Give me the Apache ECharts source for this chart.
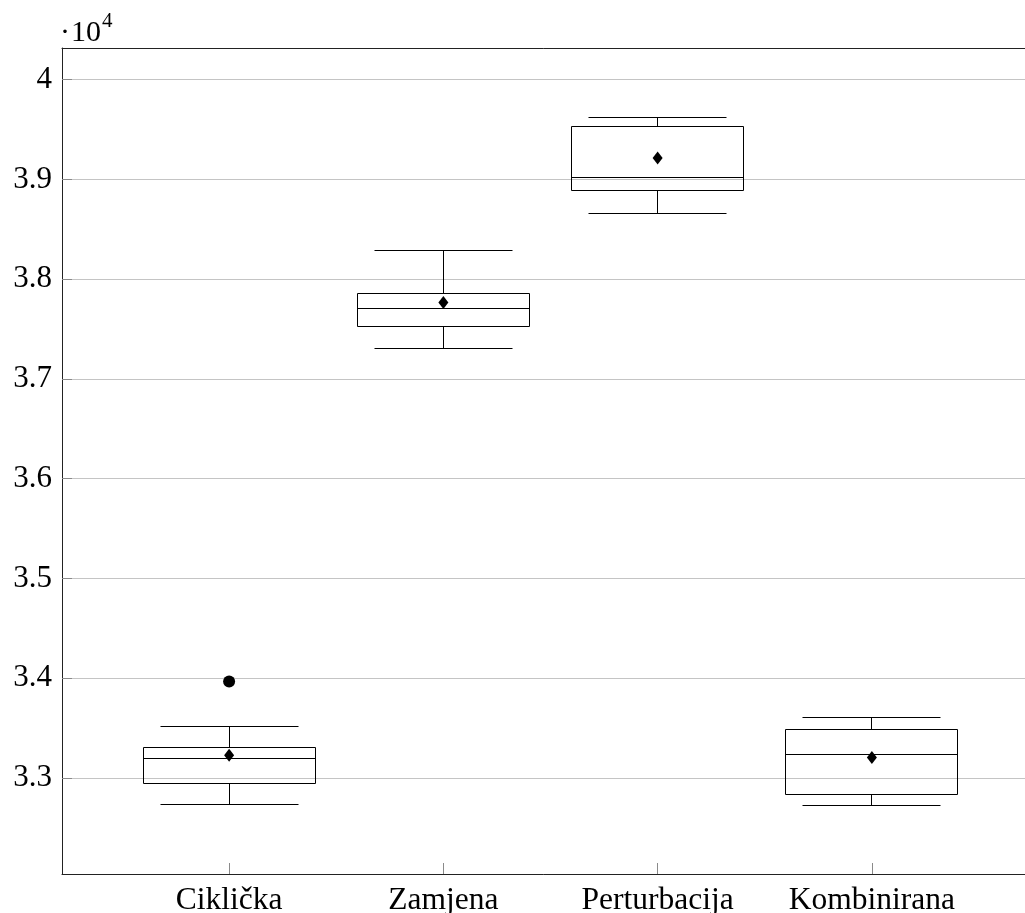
<!DOCTYPE html>
<html>
<head>
<meta charset="utf-8">
<title>Boxplot</title>
<script src="https://cdn.jsdelivr.net/npm/echarts@6/dist/echarts.min.js"></script>
<style>
  html, body { margin: 0; padding: 0; background: #fff; overflow: hidden; }
  #chart { width: 1025px; height: 913px; }
</style>
</head>
<body>
<div id="chart"></div>
<script>
// Categories and their position on the x axis
const categories = ['Ciklička', 'Zamjena', 'Perturbacija', 'Kombinirana'];
const positions = [1, 2, 3, 4];

// Five-number summaries per category
const lowerWhisker  = [32737, 37304, 38662, 32719];
const lowerQuartile = [32947, 37525, 38886, 32830];
const median        = [33193, 37702, 39020, 33231];
const upperQuartile = [33307, 37856, 39529, 33488];
const upperWhisker  = [33520, 38291, 39622, 33605];

// Means (diamonds) and outliers (dots)
const mean = [33227, 37765, 39214, 33204];
const outlierPosition = [1];
const outlierValue = [33967];

// Y axis ticks (values scaled by 10^4 in the labels)
const yTickValues = [33000, 34000, 35000, 36000, 37000, 38000, 39000, 40000];
const yTickLabels = ['3.3', '3.4', '3.5', '3.6', '3.7', '3.8', '3.9', '4'];

const serif = 'Liberation Serif';
const boxWidth = 0.8;        // in x-axis units
const whiskerRatio = 0.8;    // whisker cap width relative to box width

const boxData = positions.map((p, i) => [
  p, lowerWhisker[i], lowerQuartile[i], median[i], upperQuartile[i], upperWhisker[i]
]);
const meanData = positions.map((p, i) => [p, mean[i]]);
const outlierData = outlierPosition.map((p, i) => [p, outlierValue[i]]);

const crisp = v => Math.round(v - 0.5) + 0.5;

function renderBox(params, api) {
  const x = api.value(0);
  const yLw = api.coord([x, api.value(1)])[1];
  const yQ1 = api.coord([x, api.value(2)])[1];
  const yMed = api.coord([x, api.value(3)])[1];
  const yQ3 = api.coord([x, api.value(4)])[1];
  const yUw = api.coord([x, api.value(5)])[1];
  const cx = crisp(api.coord([x, 0])[0]);
  const half = api.size([boxWidth, 0])[0] / 2;
  const capHalf = half * whiskerRatio;
  const stroke = { stroke: '#000', lineWidth: 1, fill: null };
  const line = (x1, y1, x2, y2) => ({
    type: 'line',
    shape: { x1: x1, y1: y1, x2: x2, y2: y2 },
    style: stroke
  });
  const L = crisp(cx - half), R = crisp(cx + half);
  const cl = crisp(cx - capHalf), cr = crisp(cx + capHalf);
  const q1 = crisp(yQ1), q3 = crisp(yQ3), md = crisp(yMed), lw = crisp(yLw), uw = crisp(yUw);
  return {
    type: 'group',
    children: [
      { type: 'rect', shape: { x: L, y: q3, width: R - L, height: q1 - q3 }, style: stroke },
      line(L, md, R, md),
      line(cx, q3, cx, uw),
      line(cx, q1, cx, lw),
      line(cl, uw, cr, uw),
      line(cl, lw, cr, lw)
    ]
  };
}

const chart = echarts.init(document.getElementById('chart'), null, { renderer: 'canvas' });

chart.setOption({
  backgroundColor: '#fff',
  animation: false,
  grid: {
    left: 62, top: 48, width: 977, height: 826,
    outerBoundsMode: 'none',
    containLabel: false,
    show: false
  },
  xAxis: [
    {
      type: 'value',
      min: 0.22, max: 4.78,
      axisLine: { show: true, onZero: false, lineStyle: { color: '#222', width: 1 } },
      axisTick: {
        show: true, inside: true, length: 11, customValues: positions,
        lineStyle: { color: '#8a8a8a', width: 1 }
      },
      axisLabel: {
        customValues: positions,
        formatter: v => categories[positions.indexOf(v)] || '',
        fontFamily: serif, fontSize: 31.5, color: '#000', margin: 11
      },
      splitLine: { show: false }
    },
    {
      // top frame line
      type: 'value',
      position: 'top',
      min: 0.22, max: 4.78,
      axisLine: { show: true, onZero: false, lineStyle: { color: '#222', width: 1 } },
      axisTick: { show: false },
      axisLabel: { show: false },
      splitLine: { show: false }
    }
  ],
  yAxis: {
    type: 'value',
    min: 32037, max: 40317,
    axisLine: { show: true, onZero: false, lineStyle: { color: '#222', width: 1 } },
    axisTick: {
      show: true, inside: true, length: 10, customValues: yTickValues,
      lineStyle: { color: '#8a8a8a', width: 1 }
    },
    axisLabel: {
      customValues: yTickValues,
      formatter: v => yTickLabels[yTickValues.indexOf(v)] || '',
      fontFamily: serif, fontSize: 31, color: '#000', margin: 10
    },
    splitLine: { show: true, lineStyle: { color: '#c4c4c4', width: 1 } }
  },
  graphic: [
    {
      type: 'text', left: 60, top: 18,
      style: { text: '·', font: '30px "Liberation Serif"', fill: '#000' }
    },
    {
      type: 'text', left: 71, top: 18,
      style: { text: '10', font: '30px "Liberation Serif"', fill: '#000' }
    },
    {
      type: 'text', left: 102, top: 11,
      style: { text: '4', font: '21px "Liberation Serif"', fill: '#000' }
    }
  ],
  series: [
    {
      type: 'custom',
      name: 'box',
      renderItem: renderBox,
      data: boxData,
      encode: { x: 0, y: [1, 2, 3, 4, 5] },
      silent: true
    },
    {
      type: 'scatter',
      name: 'mean',
      data: meanData,
      symbol: 'diamond',
      symbolSize: [10, 13],
      itemStyle: { color: '#000', opacity: 1 },
      silent: true
    },
    {
      type: 'scatter',
      name: 'outlier',
      data: outlierData,
      symbol: 'circle',
      symbolSize: 12,
      itemStyle: { color: '#000', opacity: 1 },
      silent: true
    }
  ]
});
</script>
</body>
</html>
